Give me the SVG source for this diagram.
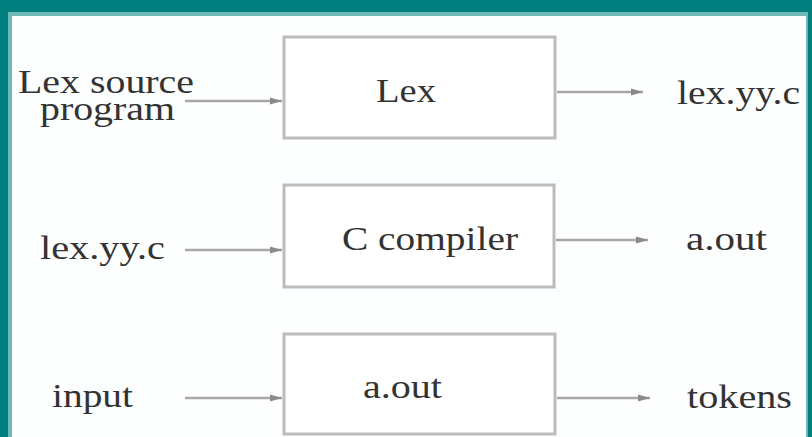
<svg xmlns="http://www.w3.org/2000/svg" width="812" height="437" viewBox="0 0 812 437">
  <defs>
    <style>
      .box { fill: #ffffff; stroke: #bcbcbc; stroke-width: 3; }
      .wire { stroke: #a8a8a8; stroke-width: 2.5; fill: none; marker-end: url(#head); }
      .lbl { font-family: "Liberation Serif", "Times New Roman", serif; font-size: 34px; fill: #333333; }
    </style>
    <marker id="head" viewBox="0 0 10 6" refX="10" refY="3" markerWidth="5" markerHeight="3" orient="auto" markerUnits="strokeWidth">
      <path d="M0,0 L10,3 L0,6 Z" fill="#8a8a8a"/>
    </marker>
  </defs>

  <!-- frame -->
  <rect x="0" y="0" width="812" height="437" fill="#007f7e"/>
  <rect x="8" y="12" width="800" height="425" fill="#6cb9b6"/>
  <rect x="12" y="16" width="794" height="421" fill="#fdfefe"/>

  <!-- boxes -->
  <g id="lex">
    <rect class="box" x="284" y="37" width="271" height="101"/>
    <text class="lbl" x="376" y="102" textLength="60" lengthAdjust="spacingAndGlyphs">Lex</text>
  </g>
  <g id="c-compiler">
    <rect class="box" x="284" y="185" width="270" height="102"/>
    <text class="lbl" x="342" y="250" textLength="176" lengthAdjust="spacingAndGlyphs">C compiler</text>
  </g>
  <g id="a-out">
    <rect class="box" x="284" y="334" width="271" height="100"/>
    <text class="lbl" x="363" y="398" textLength="79" lengthAdjust="spacingAndGlyphs">a.out</text>
  </g>

  <!-- labels -->
  <g id="lex-source">
    <text class="lbl"><tspan x="18" y="93" textLength="176" lengthAdjust="spacingAndGlyphs">Lex source</tspan><tspan x="40" y="120" textLength="135" lengthAdjust="spacingAndGlyphs">program</tspan></text>
  </g>
  <g id="lex-yy-c-out">
    <text class="lbl" x="677" y="104" textLength="123" lengthAdjust="spacingAndGlyphs">lex.yy.c</text>
  </g>
  <g id="lex-yy-c-in">
    <text class="lbl" x="40" y="259" textLength="125" lengthAdjust="spacingAndGlyphs">lex.yy.c</text>
  </g>
  <g id="a-out-file">
    <text class="lbl" x="686" y="250" textLength="81" lengthAdjust="spacingAndGlyphs">a.out</text>
  </g>
  <g id="input">
    <text class="lbl" x="52" y="407" textLength="81" lengthAdjust="spacingAndGlyphs">input</text>
  </g>
  <g id="tokens">
    <text class="lbl" x="687" y="408" textLength="105" lengthAdjust="spacingAndGlyphs">tokens</text>
  </g>

  <!-- connectors -->
  <g id="connectors">
    <line class="wire" x1="185" y1="101" x2="282" y2="101"/>
    <line class="wire" x1="557" y1="92" x2="643" y2="92"/>
    <line class="wire" x1="185" y1="250" x2="282" y2="250"/>
    <line class="wire" x1="556" y1="240" x2="648" y2="240"/>
    <line class="wire" x1="185" y1="398" x2="282" y2="398"/>
    <line class="wire" x1="557" y1="398" x2="650" y2="398"/>
  </g>
</svg>
